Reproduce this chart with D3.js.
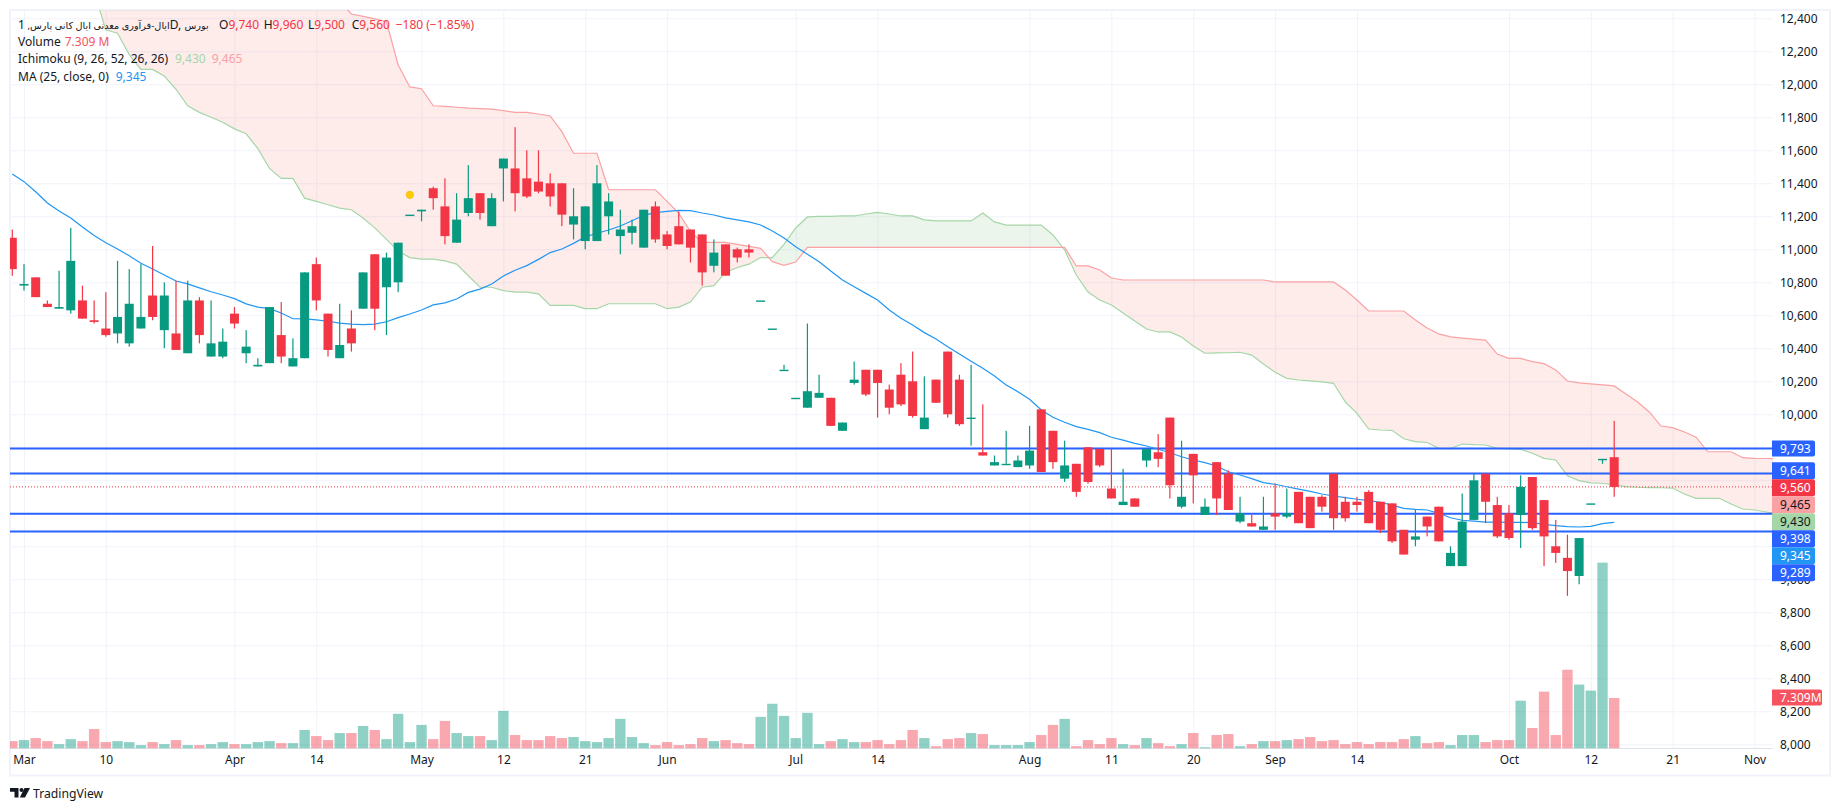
<!DOCTYPE html>
<html>
<head>
<meta charset="utf-8">
<title>chart</title>
<script src="https://cdn.jsdelivr.net/npm/d3@7"></script>
<style>
  html, body { margin: 0; padding: 0; background: #fff; overflow: hidden; }
  text { font-family: "Noto Sans", "DejaVu Sans", sans-serif; fill: #131722; }
  .axis .domain { display: none; }
  .axis line { stroke: #f0f3fa; }
  .axis text { font-size: 12px; fill: #131722; }
</style>
</head>
<body>
<svg id="chart" width="1840" height="811"></svg>
<script>
// bars, one per trading day
const opens = [11070,10780,10830,10670,10640,10630,10690,10570,10520,10490,
  10430,10520,10720,10510,10490,10370,10690,10350,10350,10610,
  10370,10290,10310,10480,10290,10340,10910,10610,10340,10520,
  10640,10970,10770,10800,11210,11230,11370,11260,11040,11220,
  11340,11140,11490,11490,11430,11410,11400,11400,11150,11050,
  11050,11200,11080,11100,11010,11260,11090,11140,11120,11090,
  10900,11030,11000,11000,10690,10520,10270,10100,10040,10100,
  10100,9900,10190,10270,10270,10150,10240,10200,9910,10210,
  10380,10210,9980,9770,9690,9700,9680,9690,10030,9900,
  9610,9700,9800,9790,9550,9450,9490,9720,9770,9980,
  9440,9760,9390,9710,9640,9350,9340,9300,9400,9380,
  9530,9500,9500,9640,9470,9470,9530,9470,9460,9300,
  9240,9380,9440,9080,9080,9360,9640,9450,9400,9390,
  9620,9480,9200,9130,9020,9460,9730,9740];
const closes = [10880,10790,10710,10650,10650,10930,10580,10560,10480,10590,
  10670,10590,10590,10720,10390,10690,10480,10430,10440,10550,
  10410,10300,10650,10350,10340,10860,10690,10390,10420,10430,
  10860,10640,10950,11040,11210,11240,11310,11080,11180,11310,
  11220,11310,11550,11340,11320,11350,11320,11210,11200,11260,
  11400,11290,11120,11140,11240,11060,11020,11030,11010,10860,
  10980,10840,10950,10980,10690,10520,10270,10100,10140,10130,
  9930,9950,10210,10120,10190,10040,10060,9990,9980,10070,
  10000,9940,9980,9750,9710,9700,9720,9780,9650,9710,
  9690,9530,9590,9690,9490,9470,9440,9790,9730,9570,
  9500,9630,9440,9490,9420,9400,9320,9320,9380,9400,
  9340,9310,9440,9370,9370,9450,9340,9300,9230,9150,
  9260,9320,9230,9160,9350,9600,9470,9260,9250,9560,
  9310,9260,9160,9050,9250,9460,9730,9560];
const highs = [11120,10910,10830,10690,10870,11130,10780,10690,10740,10930,
  10880,10910,11020,10800,10810,10810,10710,10690,10520,10650,
  10510,10340,10650,10680,10460,10860,10950,10610,10670,10630,
  10860,10970,10980,11040,11210,11240,11380,11430,11340,11510,
  11340,11340,11550,11740,11600,11600,11460,11400,11370,11260,
  11510,11340,11240,11180,11240,11290,11110,11230,11120,11090,
  11060,11030,11010,11030,10690,10520,10300,10100,10550,10240,
  10100,9950,10320,10270,10270,10180,10310,10380,10230,10210,
  10380,10240,10300,10060,9750,9900,9750,9930,10030,9900,
  9840,9700,9800,9790,9790,9670,9490,9790,9880,9980,
  9840,9760,9490,9710,9660,9500,9390,9500,9580,9550,
  9530,9500,9510,9640,9500,9500,9540,9470,9460,9300,
  9420,9380,9440,9200,9520,9640,9640,9500,9450,9630,
  9620,9480,9360,9270,9250,9460,9730,9960];
const lows = [10840,10750,10710,10650,10640,10610,10580,10550,10470,10430,
  10410,10520,10570,10400,10390,10370,10430,10350,10340,10520,
  10310,10290,10310,10310,10290,10340,10630,10350,10340,10380,
  10640,10510,10480,10740,11210,11170,11240,11030,11040,11200,
  11180,11140,11290,11230,11310,11340,11260,11140,11060,11000,
  11050,11090,10970,11030,11010,11040,11000,11030,10920,10780,
  10860,10840,10920,10950,10690,10520,10270,10100,10040,10100,
  9930,9900,10180,10110,9980,10000,10050,9980,9910,10070,
  9980,9930,9810,9750,9690,9700,9680,9670,9650,9670,
  9590,9500,9580,9680,9490,9450,9440,9680,9680,9490,
  9430,9460,9390,9390,9420,9340,9320,9300,9300,9370,
  9340,9310,9410,9300,9350,9410,9340,9280,9220,9150,
  9200,9260,9230,9080,9080,9360,9340,9250,9240,9190,
  9300,9080,9100,8900,8970,9460,9700,9500];
// volume in millions
const volumes = [1.07,1.22,1.51,1.07,0.63,1.36,1.07,2.82,0.93,1.07,
  0.93,0.49,0.93,0.63,1.22,0.49,0.49,0.63,0.93,0.63,
  0.63,0.93,1.07,0.78,0.78,2.68,1.80,1.22,2.24,2.24,
  3.26,2.68,1.36,5.02,0.93,3.41,1.36,3.99,2.24,1.80,
  1.80,1.22,5.45,1.95,1.22,1.22,1.80,1.51,1.66,1.07,
  0.93,1.51,4.29,1.66,0.78,0.49,0.93,0.49,0.63,1.51,
  1.07,1.22,0.78,0.63,4.58,6.48,4.72,1.51,5.16,0.63,
  1.07,1.36,0.93,0.93,1.22,0.63,1.22,2.68,1.51,0.34,
  1.36,1.51,2.24,2.09,0.49,0.49,0.49,0.93,1.95,3.41,
  4.29,0.34,1.22,0.63,1.51,0.63,0.49,1.51,0.78,0.34,
  0.63,2.24,0.19,1.95,2.09,0.34,0.63,1.07,1.07,1.22,
  1.36,1.66,1.07,1.22,0.63,0.93,0.63,0.93,0.93,1.36,
  1.80,0.78,0.93,0.49,1.95,1.95,0.93,1.22,1.22,6.92,
  2.97,8.23,1.95,11.4,9.25,8.38,26.9,7.309];
// MA 25
const maValues = [11456,11410,11349,11281,11232,11190,11135,11083,11040,11002,
  10961,10915,10881,10844,10808,10790,10766,10743,10723,10701,
  10669,10650,10640,10614,10579,10578,10572,10564,10553,10547,
  10543,10546,10561,10586,10608,10632,10663,10675,10699,10739,
  10759,10790,10838,10873,10901,10939,10980,11002,11036,11075,
  11097,11117,11141,11173,11206,11222,11230,11236,11234,11220,
  11208,11190,11178,11166,11147,11111,11069,11016,10970,10925,
  10869,10814,10773,10733,10693,10632,10582,10541,10495,10456,
  10410,10366,10321,10279,10232,10178,10137,10091,10026,9982,
  9952,9925,9909,9889,9861,9843,9824,9808,9788,9767,
  9743,9723,9707,9687,9652,9632,9610,9586,9576,9561,
  9547,9533,9517,9505,9495,9485,9477,9467,9450,9430,
  9424,9420,9400,9373,9358,9353,9347,9347,9345,9345,
  9343,9333,9325,9319,9317,9321,9337,9345];
// ichimoku leading spans, first value sits on bar cloudStart
const cloudStart = 7;
const leadA = [12563,12330,12310,12180,12090,12090,12050,11970,11870,11830,
  11800,11770,11730,11700,11610,11490,11430,11430,11310,11290,
  11270,11250,11240,11190,11130,11060,10990,10950,10940,10940,
  10930,10910,10840,10770,10770,10750,10740,10740,10730,10660,
  10660,10660,10640,10640,10670,10670,10670,10670,10670,10640,
  10650,10680,10770,10780,10860,10890,10910,10950,10950,11030,
  11129,11196,11199,11199,11202,11202,11214,11224,11214,11202,
  11202,11178,11172,11172,11172,11172,11220,11166,11147,11147,
  11147,11147,11087,10996,10844,10741,10693,10662,10614,10566,
  10517,10499,10499,10469,10414,10370,10372,10373,10376,10359,
  10305,10255,10218,10208,10202,10196,10188,10076,10006,9911,
  9905,9903,9852,9834,9829,9794,9792,9820,9816,9814,
  9794,9790,9788,9764,9733,9723,9628,9598,9584,9582,
  9572,9562,9558,9556,9555,9553,9517,9491,9491,9491,
  9456,9426,9420,9408,9396];
const leadB = [12600,12600,12600,12600,12600,12600,12600,12600,12600,12600,
  12600,12600,12600,12600,12600,12600,12600,12600,12600,12600,
  12600,12503,12426,12412,12397,12379,12117,11984,11973,11870,
  11866,11861,11856,11853,11850,11840,11830,11830,11820,11808,
  11713,11582,11582,11582,11361,11361,11361,11361,11361,11290,
  11218,11107,11042,11042,11042,11030,11018,11006,10925,10903,
  10923,11012,11012,11012,11012,11012,11012,11012,11012,11012,
  11012,11012,11012,11012,11012,11012,11012,11012,11012,11012,
  11012,11012,11012,11012,10899,10899,10875,10826,10814,10814,
  10814,10814,10814,10814,10814,10814,10814,10814,10814,10814,
  10814,10802,10802,10802,10802,10802,10802,10753,10693,10626,
  10626,10626,10626,10572,10523,10487,10469,10462,10456,10450,
  10365,10339,10339,10319,10307,10269,10202,10190,10184,10178,
  10172,10123,10075,10014,9929,9919,9893,9861,9773,9773,
  9773,9737,9733,9732,9730];
// horizontal levels
const levelPrices = [9793, 9641, 9398, 9289];
const lastPrice = 9560;
const markerBars = [34];
const markerPrices = [11330];
// price axis
const priceTicks = [8000,8200,8400,8600,8800,9000,9200,9400,9600,9800,10000,10200,
  10400,10600,10800,11000,11200,11400,11600,11800,12000,12200,12400];
// these labels sit fully behind the pills
const hiddenTickLabels = [9200,9400,9600,9800];
// time axis
const dateBars = [1,8,19,26,35,42,49,56,67,74,87,94,101,108,115,128,135,142,149];
const dateLabels = ["Mar","10","Apr","14","May","12","21","Jun","Jul","14","Aug","11","20","Sep","14","Oct","12","21","Nov"];
// pills on the price axis, below the first one they stack
const pillTexts = ["9,641","9,560","9,465","9,430","9,398","9,345","9,289"];
const pillColors = ["#2962ff","#f23645","#faa1a4","#a5d6a7","#2962ff","#2196f3","#2962ff"];
const pillInk = ["#fff","#fff","#131722","#131722","#fff","#fff","#fff"];

const GREEN = "#089981", RED = "#f23645";
const plotLeft = 10, plotRight = 1773, plotTop = 10, volBase = 748.5;

const svg = d3.select("#chart");
const defs = svg.append("defs");

const x = d3.scaleLinear().domain([0, 137]).range([12.3, 1614.2]);
const y = d3.scaleLinear().domain([8000, 12400]).range([744.3, 18.3]);
const yVol = d3.scaleLinear().domain([0, 7.309]).range([volBase, 698]);

defs.append("clipPath").attr("id", "plot").append("rect")
  .attr("x", plotLeft).attr("y", plotTop).attr("width", plotRight - plotLeft).attr("height", volBase - plotTop);

// frame
svg.append("rect").attr("x", 10).attr("y", 10).attr("width", 1820).attr("height", 765.5)
  .attr("fill", "none").attr("stroke", "#f0f3fa").attr("stroke-width", 2);

// grid + axes
const priceFormat = d3.format(",");
svg.append("g").attr("class", "axis")
  .attr("transform", `translate(${plotRight},0)`)
  .call(d3.axisRight(y).tickValues(priceTicks)
    .tickFormat(d => hiddenTickLabels.includes(d) ? "" : priceFormat(d))
    .tickSize(0).tickPadding(7))
  .call(g => g.selectAll(".tick").append("line")
    .attr("x1", 0).attr("x2", plotLeft - plotRight));

svg.append("g").attr("class", "axis")
  .attr("transform", `translate(0,${volBase})`)
  .call(d3.axisBottom(x).tickValues(dateBars).tickFormat((d, i) => dateLabels[i])
    .tickSize(0).tickPadding(7))
  .call(g => g.selectAll(".tick").append("line")
    .attr("y1", 0).attr("y2", plotTop - volBase));

svg.append("line").attr("x1", plotLeft).attr("x2", plotRight).attr("y1", volBase).attr("y2", volBase)
  .attr("stroke", "#e0e3eb");

const plot = svg.append("g").attr("clip-path", "url(#plot)");

const isUp = i => closes[i] >= opens[i];

// volume
plot.append("g").selectAll("rect")
  .data(volumes)
  .enter().append("rect")
  .attr("x", (d, i) => x(i) - 5.2)
  .attr("y", d => yVol(d))
  .attr("width", 10.4)
  .attr("height", d => volBase - yVol(d))
  .attr("fill", (d, i) => isUp(i) ? GREEN : RED)
  .attr("fill-opacity", (d, i) => isUp(i) ? 0.45 : 0.43);

// cloud
const cloudBars = leadA.map((d, i) => i + cloudStart);
const areaBetween = d3.area()
  .x(i => x(cloudBars[i]))
  .y0(i => y(leadA[i]))
  .y1(i => y(leadB[i]));
const rows = cloudBars.map((d, i) => i);

defs.append("clipPath").attr("id", "aboveA").append("path")
  .attr("d", d3.area().x(i => x(cloudBars[i])).y0(-200).y1(i => y(leadA[i]))(rows));
defs.append("clipPath").attr("id", "belowA").append("path")
  .attr("d", d3.area().x(i => x(cloudBars[i])).y0(1000).y1(i => y(leadA[i]))(rows));

plot.append("g").attr("clip-path", "url(#aboveA)").append("path")
  .attr("d", areaBetween(rows)).attr("fill", "#f44336").attr("fill-opacity", 0.1);
plot.append("g").attr("clip-path", "url(#belowA)").append("path")
  .attr("d", areaBetween(rows)).attr("fill", "#43a047").attr("fill-opacity", 0.1);

const lineOf = values => d3.line().x(i => x(cloudBars[i])).y(i => y(values[i]))(rows);
plot.append("path").attr("d", lineOf(leadA)).attr("fill", "none")
  .attr("stroke", "#a5d6a7").attr("stroke-width", 1.2);
plot.append("path").attr("d", lineOf(leadB)).attr("fill", "none")
  .attr("stroke", "#faa1a4").attr("stroke-width", 1.2);

// levels
plot.append("g").selectAll("line")
  .data(levelPrices)
  .enter().append("line")
  .attr("x1", plotLeft).attr("x2", plotRight)
  .attr("y1", d => y(d)).attr("y2", d => y(d))
  .attr("stroke", "#2962ff").attr("stroke-width", 2);

plot.append("line")
  .attr("x1", plotLeft).attr("x2", plotRight)
  .attr("y1", y(lastPrice)).attr("y2", y(lastPrice))
  .attr("stroke", RED).attr("stroke-width", 1).attr("stroke-dasharray", "1 2");

// moving average
plot.append("path")
  .attr("d", d3.line().x((d, i) => x(i)).y(d => y(d))(maValues))
  .attr("fill", "none").attr("stroke", "#2196f3").attr("stroke-width", 1.2);

// candles
const candles = plot.append("g").selectAll("g")
  .data(opens)
  .enter().append("g")
  .attr("fill", (d, i) => isUp(i) ? GREEN : RED);

candles.append("rect")
  .attr("x", (d, i) => x(i) - 0.6)
  .attr("width", 1.2)
  .attr("y", (d, i) => y(highs[i]))
  .attr("height", (d, i) => Math.max(y(lows[i]) - y(highs[i]), 0.1));

candles.append("rect")
  .attr("x", (d, i) => x(i) - 4.5)
  .attr("width", 9)
  .attr("y", (d, i) => y(Math.max(opens[i], closes[i])))
  .attr("height", (d, i) => Math.max(Math.abs(y(opens[i]) - y(closes[i])), 1.4));

// event marker
plot.append("g").selectAll("circle")
  .data(markerBars)
  .enter().append("circle")
  .attr("cx", d => x(d))
  .attr("cy", (d, i) => y(markerPrices[i]))
  .attr("r", 3.6)
  .attr("fill", "#ffce00").attr("stroke", "#f5bf1a").attr("stroke-width", 1);

// pills
function pill(textValue, yTop, h, w, fill, ink) {
  svg.append("path")
    .attr("d", `M${plotRight - 1},${yTop}h${w - 2}a2,2 0 0 1 2,2v${h - 4}a2,2 0 0 1 -2,2h-${w - 2}z`)
    .attr("fill", fill);
  svg.append("text").attr("x", plotRight + 7).attr("y", yTop + h / 2 + 4.2)
    .attr("font-size", 12).style("fill", ink).text(textValue);
}
pill("9,793", y(9793) - 8, 16, 43, "#2962ff", "#fff");
pillTexts.forEach((t, i) => pill(t, 462.3 + i * 17, 17, 43, pillColors[i], pillInk[i]));
pill("7.309M", 689.5, 16, 50, "#f7525f", "#fff");

// legend
const legend = svg.append("g").attr("font-size", 12);
const row1 = legend.append("text").attr("x", 18).attr("y", 29);
row1.append("tspan").attr("font-size", 9.7).text("ایال-فرآوری معدنی ایال کانی پارس, ");
row1.append("tspan").text("1D, ");
row1.append("tspan").attr("font-size", 9.7).text("بورس");
[["O", "9,740", 219], ["H", "9,960", 263.7], ["L", "9,500", 308], ["C", "9,560", 351.7]].forEach(o => {
  row1.append("tspan").attr("x", o[2]).text(o[0]);
  row1.append("tspan").style("fill", RED).text(o[1]);
});
row1.append("tspan").attr("x", 395.7).style("fill", RED).text("−180 (−1.85%)");

legend.append("text").attr("x", 18).attr("y", 46).text("Volume");
legend.append("text").attr("x", 64.7).attr("y", 46).style("fill", "#f7525f").text("7.309 M");
legend.append("text").attr("x", 18).attr("y", 63).text("Ichimoku (9, 26, 52, 26, 26)");
legend.append("text").attr("x", 175).attr("y", 63).style("fill", "#a5d6a7").text("9,430");
legend.append("text").attr("x", 211.7).attr("y", 63).style("fill", "#faa1a4").text("9,465");
legend.append("text").attr("x", 18).attr("y", 80.5).text("MA (25, close, 0)");
legend.append("text").attr("x", 115.7).attr("y", 80.5).style("fill", "#2196f3").text("9,345");

// brand
const brand = svg.append("g").attr("transform", "translate(10,788)");
brand.append("path").attr("d", "M0 0H8.5V9.5H4.5V3.8H0Z").attr("fill", "#131722");
brand.append("circle").attr("cx", 11.5).attr("cy", 2).attr("r", 2).attr("fill", "#131722");
brand.append("path").attr("d", "M14.5 0H20L15 9.5H9.8Z").attr("fill", "#131722");
brand.append("text").attr("x", 23).attr("y", 10).attr("font-size", 12.2).text("TradingView");
</script>
</body>
</html>
